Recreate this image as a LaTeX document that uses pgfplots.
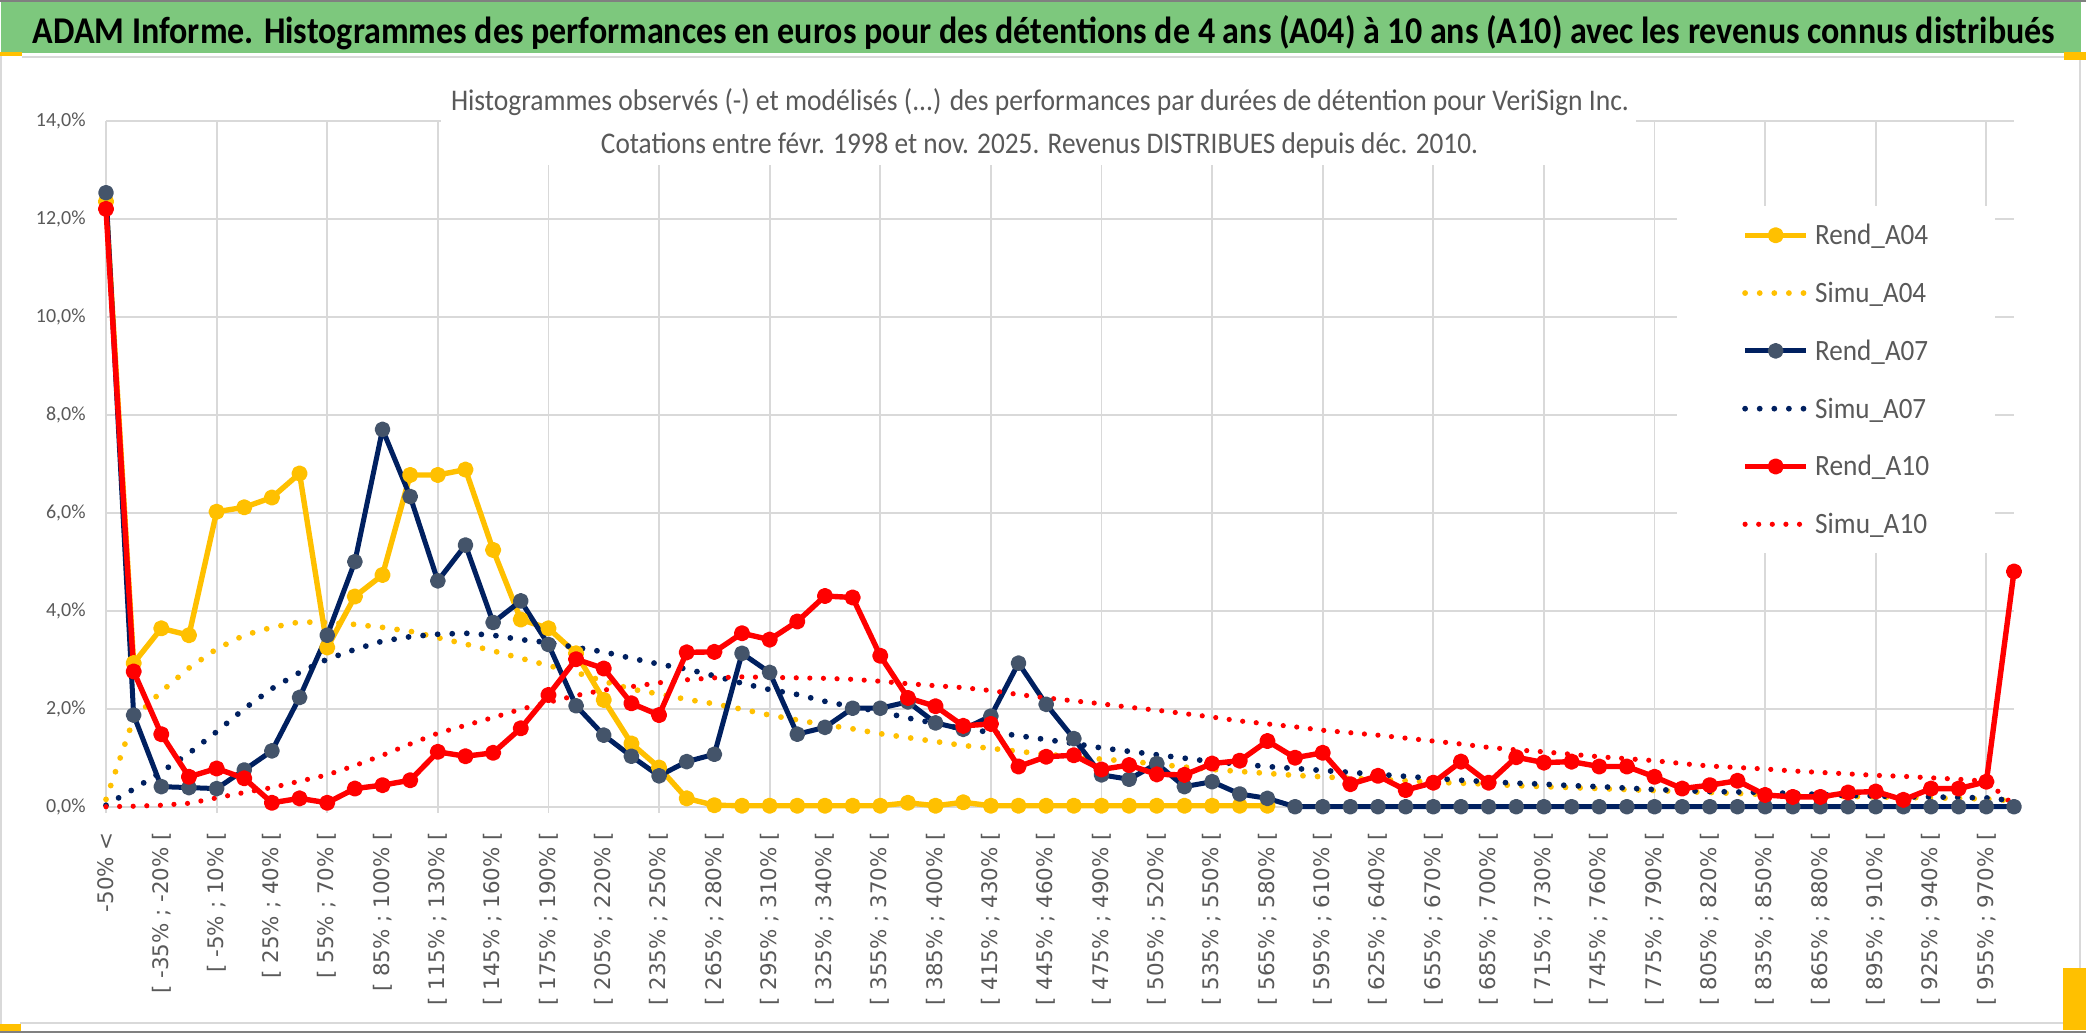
\documentclass[border=0pt]{standalone}
\usepackage{pgfplots}
\pgfplotsset{compat=1.18}
\usepackage{pgfplotstable}
\usepackage{fontspec}
\setmainfont{Carlito}
\newfontfamily\labfont{DejaVu Sans}

\definecolor{jaune}{HTML}{FFC000}
\definecolor{marine}{HTML}{002060}
\definecolor{rouge}{HTML}{FF0000}
\definecolor{ardoise}{HTML}{44546A}
\definecolor{txtgris}{HTML}{595959}
\definecolor{grille}{HTML}{D9D9D9}
\definecolor{bandeau}{RGB}{125,200,125}
\definecolor{cadre}{HTML}{808080}

% entree de legende a largeur imposee
\newcommand\leg[2]{\resizebox{#1}{\height}{#2}}

% i = classe de performance (0 = "-50% <", puis tranches de 15%)
\pgfplotstableread{
i  r04   s04  r07   s07  r10   s10
0  12.35 0.15 12.53 0.03 12.20 0.00
1  2.93  1.80 1.87  0.36 2.76  0.01
2  3.64  2.35 0.41  0.71 1.48  0.03
3  3.50  2.83 0.39  1.09 0.61  0.07
4  6.02  3.22 0.37  1.53 0.78  0.18
5  6.11  3.50 0.75  2.00 0.58  0.29
6  6.31  3.66 1.14  2.41 0.08  0.39
7  6.80  3.77 2.23  2.74 0.17  0.52
8  3.25  3.76 3.50  3.01 0.08  0.65
9  4.29  3.72 5.00  3.21 0.37  0.84
10 4.73  3.66 7.70  3.38 0.44  1.05
11 6.77  3.58 6.33  3.47 0.54  1.28
12 6.77  3.45 4.61  3.52 1.12  1.50
13 6.88  3.32 5.34  3.54 1.03  1.66
14 5.24  3.18 3.76  3.50 1.10  1.82
15 3.82  3.03 4.20  3.41 1.60  1.99
16 3.64  2.88 3.31  3.35 2.28  2.13
17 3.13  2.74 2.06  3.25 3.01  2.27
18 2.18  2.56 1.46  3.16 2.82  2.38
19 1.29  2.40 1.03  3.03 2.11  2.45
20 0.80  2.30 0.63  2.91 1.87  2.53
21 0.17  2.19 0.92  2.81 3.15  2.59
22 0.03  2.10 1.07  2.67 3.16  2.63
23 0.02  1.99 3.13  2.52 3.54  2.65
24 0.02  1.87 2.74  2.39 3.41  2.64
25 0.02  1.77 1.48  2.29 3.78  2.63
26 0.02  1.67 1.62  2.15 4.30  2.62
27 0.02  1.59 2.01  2.04 4.27  2.60
28 0.02  1.49 2.01  1.94 3.08  2.56
29 0.08  1.41 2.14  1.81 2.22  2.51
30 0.02  1.33 1.71  1.70 2.05  2.47
31 0.09  1.25 1.58  1.59 1.65  2.43
32 0.02  1.19 1.85  1.52 1.69  2.37
33 0.02  1.13 2.93  1.45 0.82  2.29
34 0.02  1.07 2.09  1.37 1.02  2.22
35 0.02  1.02 1.39  1.29 1.05  2.16
36 0.02  0.97 0.65  1.20 0.76  2.10
37 0.02  0.93 0.56  1.13 0.85  2.03
38 0.02  0.87 0.88  1.06 0.66  1.97
39 0.02  0.81 0.41  0.99 0.65  1.90
40 0.02  0.76 0.51  0.92 0.88  1.83
41 0.02  0.72 0.26  0.87 0.94  1.75
42 0.02  0.68 0.17  0.82 1.34  1.69
43 nan   0.64 0     0.78 1.00  1.63
44 nan   0.61 0     0.74 1.10  1.56
45 nan   0.58 0     0.70 0.46  1.51
46 nan   0.56 0     0.66 0.63  1.46
47 nan   0.53 0     0.62 0.34  1.40
48 nan   0.50 0     0.58 0.49  1.34
49 nan   0.48 0     0.54 0.92  1.28
50 nan   0.46 0     0.51 0.49  1.21
51 nan   0.43 0     0.48 1.01  1.16
52 nan   0.41 0     0.46 0.90  1.12
53 nan   0.39 0     0.43 0.92  1.07
54 nan   0.37 0     0.41 0.82  1.02
55 nan   0.35 0     0.38 0.82  0.98
56 nan   0.33 0     0.35 0.61  0.94
57 nan   0.31 0     0.33 0.37  0.88
58 nan   0.29 0     0.31 0.44  0.83
59 nan   0.27 0     0.30 0.53  0.80
60 nan   0.25 0     0.29 0.24  0.77
61 nan   0.23 0     0.27 0.20  0.73
62 nan   0.22 0     0.25 0.20  0.70
63 nan   0.21 0     0.23 0.29  0.67
64 nan   0.20 0     0.22 0.31  0.64
65 nan   0.19 0     0.20 0.14  0.62
66 nan   0.18 0     0.20 0.37  0.59
67 nan   0.17 0     0.19 0.37  0.56
68 nan   0.16 0     0.18 0.51  0.52
69 nan   0.12 0     0.12 4.80  0.03
}\donnees

\pgfplotsset{
  rend/.style={solid, line width=2.7pt, line join=round, mark=*, mark size=2.7pt},
  simu/.style={line width=2.9pt, line cap=round, dash pattern=on 0pt off 7.3pt, mark=none},
}

\begin{document}
\begin{tikzpicture}
\useasboundingbox (0pt,0pt) rectangle (1043pt,-516.5pt);
\fill[white] (0pt,0pt) rectangle (1043pt,-516.5pt);
% bandeau du titre
\fill[bandeau] (0.5pt,-1pt) rectangle (1040.5pt,-26.5pt);
\node[anchor=base, inner sep=0pt] at (522pt,-21.65pt)
  {\fontsize{18.9pt}{18.9pt}\selectfont\bfseries\resizebox{1011pt}{\height}{ADAM Informe. Histogrammes des performances en euros pour des détentions de 4 ans (A04) à 10 ans (A10) avec les revenus connus distribués}};
% cadre
\draw[grille, line width=1pt] (11pt,-28.5pt) -- (1043pt,-28.5pt);
\draw[grille, line width=1pt] (10pt,-511.5pt) -- (1040pt,-511.5pt);
\draw[grille, line width=1pt] (1040pt,-28.5pt) -- (1040pt,-511.5pt);
\draw[grille, line width=1pt] (0.5pt,-28pt) -- (0.5pt,-512pt);
\draw[cadre, line width=0.8pt] (0pt,-0.4pt) -- (1043pt,-0.4pt);
\draw[cadre, line width=0.8pt] (0pt,-516.1pt) -- (1043pt,-516.1pt);
\fill[jaune] (0pt,-26pt) rectangle (11pt,-28pt);
\fill[jaune] (0pt,-512pt) rectangle (10.5pt,-515.5pt);
\fill[jaune] (1032pt,-26pt) rectangle (1043pt,-30pt);
\fill[jaune] (1031.5pt,-484pt) rectangle (1043pt,-515pt);

\begin{axis}[
  at={(53pt,-403.35pt)}, anchor=south west,
  scale only axis, width=954pt, height=343pt,
  xmin=0, xmax=69, ymin=0, ymax=14,
  clip=false,
  axis line style={draw=none},
  major tick length=0pt,
  tick pos=left,
  ymajorgrids,
  grid style={grille, line width=0.9pt},
  ytick={0,2,...,14},
  yticklabels={{0,0\%},{2,0\%},{4,0\%},{6,0\%},{8,0\%},{10,0\%},{12,0\%},{14,0\%}},
  yticklabel style={font=\fontsize{10pt}{10pt}\selectfont, text=txtgris, inner sep=0pt, anchor=east},
  yticklabel shift=10pt,
  xtick={0,2,...,68},
  xticklabels={{-50\% <},{[ -35\% ; -20\% [},{[ -5\% ; 10\% [},{[ 25\% ; 40\% [},{[ 55\% ; 70\% [},{[ 85\% ; 100\% [},{[ 115\% ; 130\% [},{[ 145\% ; 160\% [},{[ 175\% ; 190\% [},{[ 205\% ; 220\% [},{[ 235\% ; 250\% [},{[ 265\% ; 280\% [},{[ 295\% ; 310\% [},{[ 325\% ; 340\% [},{[ 355\% ; 370\% [},{[ 385\% ; 400\% [},{[ 415\% ; 430\% [},{[ 445\% ; 460\% [},{[ 475\% ; 490\% [},{[ 505\% ; 520\% [},{[ 535\% ; 550\% [},{[ 565\% ; 580\% [},{[ 595\% ; 610\% [},{[ 625\% ; 640\% [},{[ 655\% ; 670\% [},{[ 685\% ; 700\% [},{[ 715\% ; 730\% [},{[ 745\% ; 760\% [},{[ 775\% ; 790\% [},{[ 805\% ; 820\% [},{[ 835\% ; 850\% [},{[ 865\% ; 880\% [},{[ 895\% ; 910\% [},{[ 925\% ; 940\% [},{[ 955\% ; 970\% [}},
  xticklabel style={rotate=90, anchor=east, inner sep=0pt, font=\labfont\fontsize{10.7pt}{10.7pt}\selectfont, text=txtgris},
  xticklabel shift=12.5pt,
  extra x ticks={0,4,...,68},
  extra x tick labels={},
  extra x tick style={grid=major, major tick length=3pt, tick align=outside, tick style={draw=grille, line width=0.9pt}},
  legend image code/.code={\draw[mark repeat=2,mark phase=2,#1] plot coordinates {(0pt,0pt) (15.3pt,0pt) (30.6pt,0pt)};},
  legend cell align=left,
  legend style={at={(axis cs:56.78,12.26)}, anchor=north west, draw=none, fill=white,
    inner xsep=32.85pt, inner ysep=0pt, row sep=0pt, column sep=3pt,
    font=\fontsize{14.75pt}{14.75pt}\selectfont, text=txtgris,
    nodes={inner sep=0pt, text height=19.2pt, text depth=9.7pt}},
]
\addplot[rend, color=jaune, mark options={fill=jaune, draw=jaune}] table[x=i, y=r04] {\donnees};
\addlegendentry{\leg{56.5pt}{Rend\_A04}}
\addplot[simu, color=jaune] table[x=i, y=s04] {\donnees};
\addlegendentry{\leg{55.5pt}{Simu\_A04}}
\addplot[rend, color=marine, line width=2.5pt, mark options={fill=ardoise, draw=ardoise}] table[x=i, y=r07] {\donnees};
\addlegendentry{\leg{56.5pt}{Rend\_A07}}
\addplot[simu, color=marine] table[x=i, y=s07] {\donnees};
\addlegendentry{\leg{55.5pt}{Simu\_A07}}
\addplot[rend, color=rouge, mark options={fill=rouge, draw=rouge}] table[x=i, y=r10] {\donnees};
\addlegendentry{\leg{57pt}{Rend\_A10}}
\addplot[simu, color=rouge, line width=2.6pt, dash pattern=on 0pt off 6.8pt] table[x=i, y=s10] {\donnees};
\addlegendentry{\leg{56pt}{Simu\_A10}}
\end{axis}

% titre du graphique
\fill[white] (220.5pt,-29pt) rectangle (818pt,-82.5pt);
\node[anchor=base, inner sep=0pt, text=txtgris] at (520pt,-55pt)
  {\fontsize{15pt}{15pt}\selectfont\resizebox{589pt}{\height}{Histogrammes observés (-) et modélisés (...) des performances par durées de détention pour VeriSign Inc.}};
\node[anchor=base, inner sep=0pt, text=txtgris] at (519.75pt,-76.5pt)
  {\fontsize{15pt}{15pt}\selectfont\resizebox{438.5pt}{\height}{Cotations entre févr. 1998 et nov. 2025. Revenus DISTRIBUES depuis déc. 2010.}};
\end{tikzpicture}
\end{document}
